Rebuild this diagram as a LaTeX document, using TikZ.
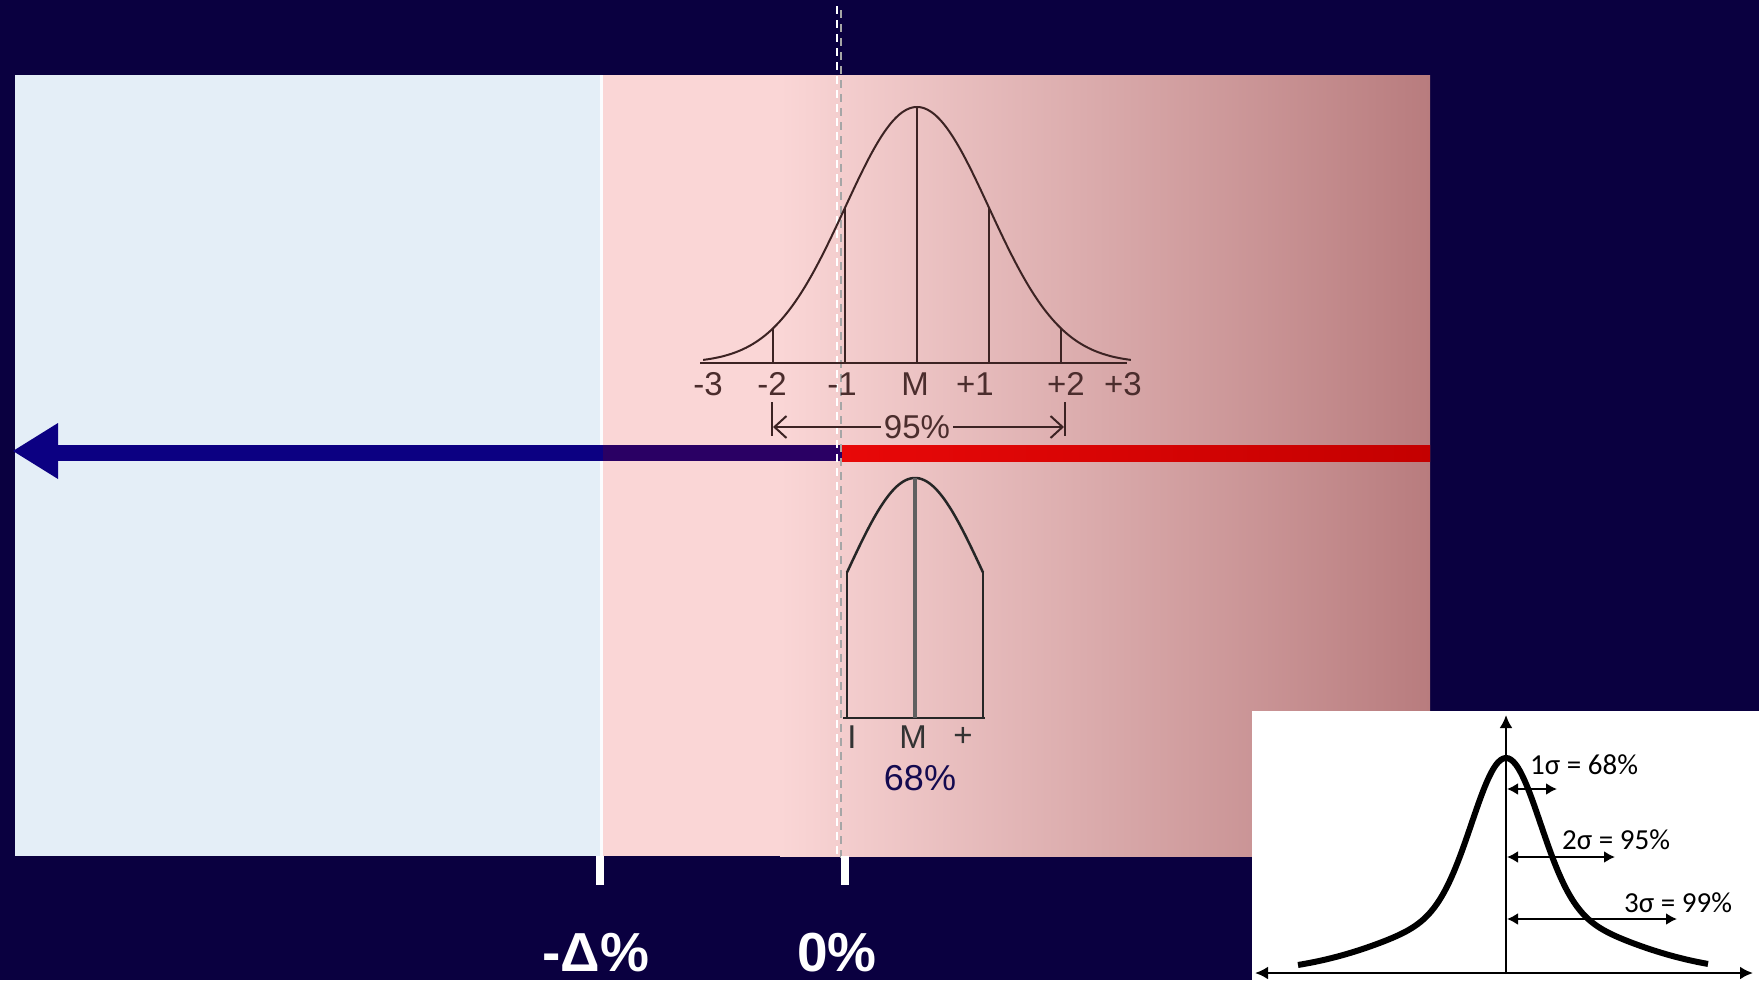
\documentclass[tikz,border=0pt]{standalone}
\usepackage{fontspec}
\setmainfont{Liberation Sans}
\newfontfamily\carl{Carlito}
\usetikzlibrary{arrows.meta}
\definecolor{bgnavy}{RGB}{10,0,64}
\definecolor{lightblue}{RGB}{228,238,247}
\definecolor{pk1}{RGB}{250,214,214}
\definecolor{pk2}{RGB}{220,163,166}
\definecolor{pk3}{RGB}{184,124,126}
\definecolor{barblue}{RGB}{12,0,130}
\definecolor{barpurple}{RGB}{42,0,100}
\definecolor{barred1}{RGB}{232,8,8}
\definecolor{barred2}{RGB}{196,0,0}
\definecolor{lblbrown}{RGB}{75,45,45}
\definecolor{linebrown}{RGB}{60,35,35}
\definecolor{txtnavy}{RGB}{20,10,80}
\tikzset{
  bellline/.style={draw=linebrown, line width=2pt},
  lowline/.style={draw=black!85, line width=2.5pt},
  toplbl/.style={text=lblbrown, font=\fontsize{33}{36}\selectfont, inner sep=0pt},
  bottomlbl/.style={text=white, font=\fontsize{55}{60}\selectfont\bfseries, inner sep=0pt},
  insetlbl/.style={text=black, font=\carl\fontsize{29}{32}\selectfont, inner sep=0pt, anchor=west},
  tickmark/.style={draw=white, line width=8pt},
  bigtip/.tip={Latex[length=13pt,width=13pt]},
  smalltip/.tip={Latex[length=11pt,width=12pt]}
}
\begin{document}
\begin{tikzpicture}[x=1pt,y=-1pt]
\useasboundingbox (0,0) rectangle (1759,980);
\fill[bgnavy] (0,0) rectangle (1759,980);
% panels
\fill[lightblue] (15,75) rectangle (603,856);
\fill[pk1] (603,75) rectangle (782,856);
\shade[left color=pk1, middle color=pk2, right color=pk3] (780,75) rectangle (1430,856);
\draw[white!85!lightblue, line width=3pt] (601,75) -- (601,856);
% main arrow
\fill[barblue] (50,445) rectangle (603,461);
\fill[barpurple] (603,445) rectangle (842,461);
\shade[left color=barred1, right color=barred2] (842,445) rectangle (1430,461);
\fill[barblue] (13,451) -- (58,423) -- (58,479) -- cycle;
% dashed zero line
\coordinate (dtop) at (837,6);
\coordinate (dbot) at (837,858);
\coordinate (gtop) at (841,10);
\coordinate (gbot) at (841,858);
\draw[white, line width=2.5pt, dash pattern=on 8pt off 6pt] (dtop) -- (dbot);
\draw[gray!70, line width=2pt, dash pattern=on 8pt off 6pt] (gtop) -- (gbot);
% top bell
\draw[bellline] plot[domain=-2.97:2.97, samples=121, smooth] ({917+72*\x},{363-256*exp(-0.5*\x*\x)});
\coordinate (axl) at (700,363);
\coordinate (axr) at (1127,363);
\draw[bellline] (axl) -- (axr);
\foreach \s/\n in {-2/m2,-1/m1,0/m0,1/p1,2/p2}{
  \coordinate (b\n) at ({917+72*\s},363);
  \coordinate (t\n) at ({917+72*\s},{363-256*exp(-0.5*\s*\s)});
  \draw[bellline] (b\n) -- (t\n);
}
\node[toplbl] (lm3) at (708,384) {-3};
\node[toplbl] (lm2) at (772,384) {-2};
\node[toplbl] (lm1) at (842,384) {-1};
\node[toplbl] (lM) at (915,384) {M};
\node[toplbl] (lp1) at (975,384) {+1};
\node[toplbl] (lp2) at (1066,384) {+2};
\node[toplbl] (lp3) at (1123,384) {+3};
% 95% span
\coordinate (k1a) at (772,402);
\coordinate (k1b) at (772,436);
\coordinate (k2a) at (1065,402);
\coordinate (k2b) at (1065,436);
\draw[bellline] (k1a) -- (k1b);
\draw[bellline] (k2a) -- (k2b);
\node[toplbl] (t95) at (917,427) {95\%};
\coordinate (a95l) at (773,427);
\coordinate (a95r) at (1064,427);
\draw[bellline, -{Straight Barb[length=12pt,width=22pt]}] ([xshift=-3pt]t95.west) -- (a95l);
\draw[bellline, -{Straight Barb[length=12pt,width=22pt]}] ([xshift=3pt]t95.east) -- (a95r);
% lower bell (68%)
\draw[lowline] plot[domain=-1.0:1.0, samples=61, smooth] ({915+68*\x},{718-240*exp(-0.5*\x*\x)});
\coordinate (lbl) at (843,718);
\coordinate (lbr) at (985,718);
\draw[lowline] (lbl) -- (lbr);
\coordinate (lv1a) at (847,718);
\coordinate (lv1b) at (847,{718-240*exp(-0.5)});
\coordinate (lv2a) at (983,718);
\coordinate (lv2b) at (983,{718-240*exp(-0.5)});
\draw[lowline] (lv1a) -- (lv1b);
\draw[lowline] (lv2a) -- (lv2b);
\coordinate (lma) at (915,718);
\coordinate (lmb) at (915,478);
\draw[draw=gray!75!black, line width=3.5pt] (lma) -- (lmb);
\node[toplbl, text=black!80] (li) at (852,737) {I};
\node[toplbl, text=black!80] (lm) at (913,737) {M};
\node[toplbl, text=black!80] (lp) at (963,737) {+};
\node[inner sep=0pt, text=txtnavy, font=\fontsize{36}{40}\selectfont] (l68) at (920,778) {68\%};
% bottom ticks and labels
\coordinate (tk1a) at (600,856);
\coordinate (tk1b) at (600,885);
\coordinate (tk2a) at (845,856);
\coordinate (tk2b) at (845,885);
\draw[tickmark] (tk1a) -- (tk1b);
\draw[tickmark] (tk2a) -- (tk2b);
\node[bottomlbl] (ldelta) at (596,953) {-Δ\%};
\node[bottomlbl] (lzero) at (837,953) {0\%};
% inset
\fill[white] (1252,711) rectangle (1759,980);
\coordinate (ial) at (1255,973);
\coordinate (iar) at (1753,973);
\coordinate (iv0) at (1506,974);
\coordinate (ivt) at (1506,715);
\draw[line width=2.5pt, bigtip-bigtip] (ial) -- (iar);
\draw[line width=2.5pt, -bigtip] (iv0) -- (ivt);
\draw[line width=6pt] plot[domain=-20.8:20.2, samples=161, smooth]
  ({1506+10*\x},{973-215*(0.7*exp(-\x*\x/22.4)+0.3*exp(-\x*\x/208))});
\coordinate (s1a) at (1507,789);
\coordinate (s1b) at (1557,789);
\coordinate (s2a) at (1507,857);
\coordinate (s2b) at (1615,857);
\coordinate (s3a) at (1507,919);
\coordinate (s3b) at (1677,919);
\draw[line width=2pt, smalltip-smalltip] (s1a) -- (s1b);
\draw[line width=2pt, smalltip-smalltip] (s2a) -- (s2b);
\draw[line width=2pt, smalltip-smalltip] (s3a) -- (s3b);
\node[insetlbl] (sl1) at (1530,765) {1σ = 68\%};
\node[insetlbl] (sl2) at (1562,840) {2σ = 95\%};
\node[insetlbl] (sl3) at (1624,903) {3σ = 99\%};
\end{tikzpicture}
\end{document}
